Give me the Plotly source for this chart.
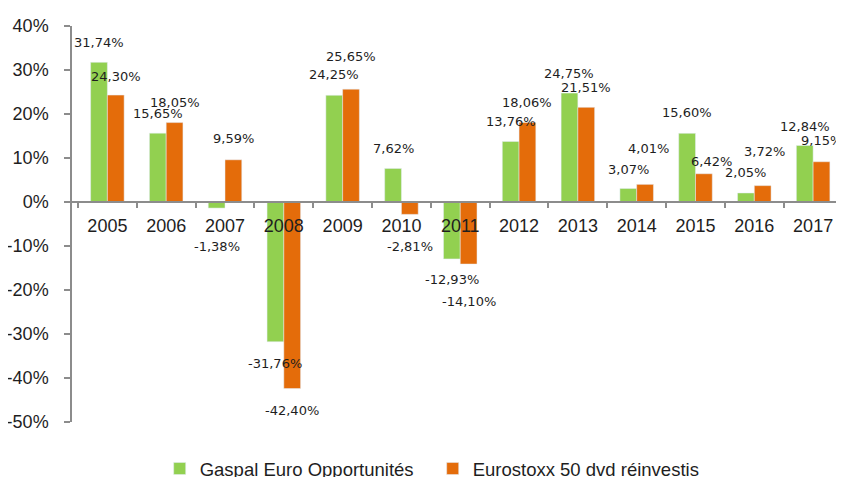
import plotly.graph_objects as go

years = ["2005", "2006", "2007", "2008", "2009", "2010", "2011",
         "2012", "2013", "2014", "2015", "2016", "2017"]
gaspal = [31.74, 15.65, -1.38, -31.76, 24.25, 7.62, -12.93,
          13.76, 24.75, 3.07, 15.60, 2.05, 12.84]
eurostoxx = [24.30, 18.05, 9.59, -42.40, 25.65, -2.81, -14.10,
             18.06, 21.51, 4.01, 6.42, 3.72, 9.15]
series_names = ["Gaspal Euro Opportunités", "Eurostoxx 50 dvd réinvestis"]
y_tickvals = [-50, -40, -30, -20, -10, 0, 10, 20, 30, 40]
y_ticktext = ["-50%", "-40%", "-30%", "-20%", "-10%", "0%", "10%", "20%", "30%", "40%"]

# label styling (pixel offsets of the data labels away from bar ends)
green_label_off = [20, 20, 38, 22, 21, 20, 21, 20, 20, 19, 21, 20, 19]
orange_label_off = [19, 20, 21, 22, 33, 32, 37, 20, 20, 36, 12, 34, 21]
orange_label_dx = [0, 0, 0, 0, 0, 0, 0, 0, 0, 3, 8, 2, 0]

GREEN = "#92D050"
ORANGE = "#E46C0A"
AXIS = "#8C8C8C"
TEXT = "#1E1E1E"
BARGAP = 0.43
W, H = 836, 469  # page body has an 8px margin

def fmt(v):
    return ("%.2f%%" % v).replace(".", ",")

fig = go.Figure()
fig.add_trace(go.Bar(x=years, y=gaspal, name=series_names[0], marker_color=GREEN))
fig.add_trace(go.Bar(x=years, y=eurostoxx, name=series_names[1], marker_color=ORANGE))

half = (1 - BARGAP) / 4
annotations = []
for vals, offs, dxs, sgn in [(gaspal, green_label_off, [0] * len(years), -1),
                             (eurostoxx, orange_label_off, orange_label_dx, 1)]:
    for i, v in enumerate(vals):
        annotations.append(dict(
            x=i + sgn * half, y=v, xref="x", yref="y",
            text=fmt(v), showarrow=False,
            xanchor="center", yanchor="middle",
            xshift=dxs[i], yshift=offs[i] if v >= 0 else -offs[i],
            font=dict(family="DejaVu Sans", size=13, color=TEXT),
        ))

fig.update_layout(
    width=W, height=H,
    margin=dict(l=64, r=0, t=18, b=55, autoexpand=False),
    paper_bgcolor="white", plot_bgcolor="white",
    barmode="group", bargap=BARGAP, bargroupgap=0,
    showlegend=True,
    legend=dict(orientation="h", xref="container", yref="container",
                x=0.508, y=1 - 461 / H, xanchor="center", yanchor="middle",
                font=dict(family="Liberation Sans", size=18.5, color=TEXT),
                itemwidth=30, tracegroupgap=0, entrywidth=228),
    annotations=annotations,
    font=dict(family="Liberation Sans", color=TEXT),
)
fig.update_xaxes(
    type="category", anchor="free", position=50 / 90, automargin=False,
    showline=True, linecolor=AXIS, linewidth=1.5,
    ticks="outside", tickson="boundaries", ticklen=5, tickcolor=AXIS, tickwidth=1.5,
    tickfont=dict(family="Liberation Sans", size=18, color=TEXT),
    showgrid=False, zeroline=False, ticklabelstandoff=8,
)
fig.update_yaxes(
    range=[-50, 40], tickvals=y_tickvals, ticktext=y_ticktext, automargin=False,
    showline=True, linecolor=AXIS, linewidth=1.5,
    ticks="outside", ticklen=6, tickcolor=AXIS, tickwidth=1.5,
    tickfont=dict(family="Liberation Sans", size=18, color=TEXT),
    showgrid=False, zeroline=False, ticklabelstandoff=12,
)
fig.write_html("out.html")
